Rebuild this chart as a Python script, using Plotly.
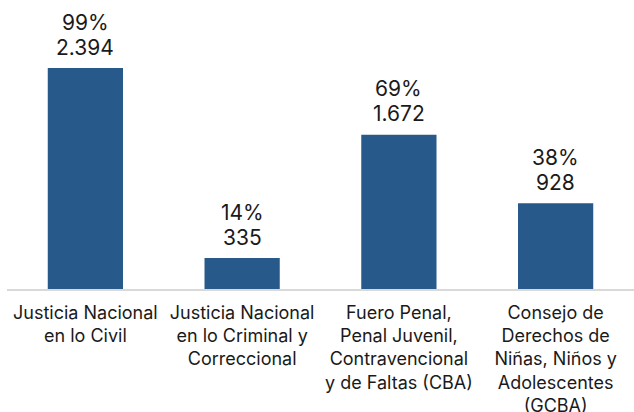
import plotly.graph_objects as go

categories = [
    "Justicia Nacional<br>en lo Civil",
    "Justicia Nacional<br>en lo Criminal y<br>Correccional",
    "Fuero Penal,<br>Penal Juvenil,<br>Contravencional<br>y de Faltas (CBA)",
    "Consejo de<br>Derechos de<br>Niñas, Niños y<br>Adolescentes<br>(GCBA)",
]
values = [2394, 335, 1672, 928]
percents = [99, 14, 69, 38]

xs = list(range(len(categories)))

fig = go.Figure(
    go.Bar(
        x=xs,
        y=values,
        marker=dict(color="#27598a", line=dict(width=0)),
        hoverinfo="skip",
    )
)

label_font = dict(family="Inter", size=21, color="#1a1a1a")
annotations = []
for x, v, p in zip(xs, values, percents):
    annotations.append(dict(x=x, y=v, xref="x", yref="y", text=f"{p}%",
                            showarrow=False, yanchor="middle", yshift=46,
                            font=label_font))
    annotations.append(dict(x=x, y=v, xref="x", yref="y", text=f"{v:,}".replace(",", "."),
                            showarrow=False, yanchor="middle", yshift=21,
                            font=label_font))

fig.update_layout(
    width=634,
    height=412,
    margin=dict(l=7, r=0, t=0, b=123),
    paper_bgcolor="white",
    plot_bgcolor="white",
    bargap=0.52,
    showlegend=False,
    font=dict(family="Inter", color="#1a1a1a"),
    annotations=annotations,
    xaxis=dict(
        tickmode="array",
        tickvals=xs,
        ticktext=categories,
        tickfont=dict(family="Inter", size=18, color="#1a1a1a"),
        ticklabelstandoff=6,
        showline=True,
        linecolor="#d9d9d9",
        linewidth=2,
        showgrid=False,
        zeroline=False,
        ticks="",
        automargin=False,
        range=[-0.5, 3.5],
    ),
    yaxis=dict(visible=False, range=[0, 3131], showgrid=False, zeroline=False, automargin=False),
)

fig.write_html(
    "out.html",
    config={"displayModeBar": False},
    post_script="document.body.style.margin='0';document.body.style.overflow='hidden';",
)
